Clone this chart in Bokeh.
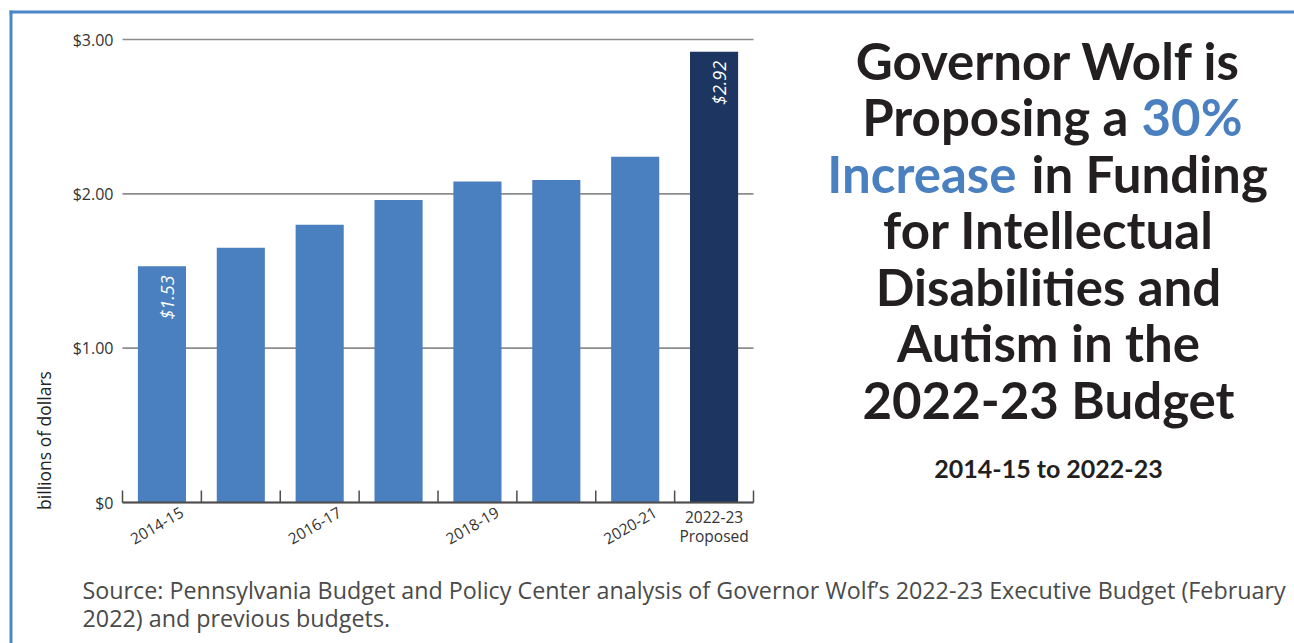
import math
from bokeh.plotting import figure
from bokeh.models import Label, ColumnDataSource, Range1d
from bokeh.embed import file_html
from bokeh.resources import INLINE
from bokeh.core.properties import value

# ---- data ----
years = ["2014-15", "2015-16", "2016-17", "2017-18", "2018-19", "2019-20", "2020-21", "2022-23"]
funding = [1.53, 1.65, 1.80, 1.96, 2.08, 2.09, 2.24, 2.92]
shown_year_labels = ["2014-15", "", "2016-17", "", "2018-19", "", "2020-21", ""]
last_label = ["2022-23", "Proposed"]
value_text = ["$1.53", "", "", "", "", "", "", "$2.92"]
y_ticks = [0, 1, 2, 3]
y_tick_labels = ["$0", "$1.00", "$2.00", "$3.00"]

BLUE = "#4a80c0"
NAVY = "#1c3661"
DARK = "#231f20"
AXIS = "#4d4d4d"

W, H = 1294, 643
L, R, T, B = 122, 753, 39, 502   # pixel box of the plotting area
n = len(years)
SX = (R - L) / n          # px per category
SY = (B - T) / 3.0        # px per billion

def dx(px):
    return (px - L) / SX

def dy(py):
    return (B - py) / SY

p = figure(width=W, height=H, x_range=Range1d(dx(0), dx(W)), y_range=Range1d(dy(H), dy(0)),
           output_backend="svg", toolbar_location=None,
           min_border_left=0, min_border_right=0, min_border_top=0, min_border_bottom=0)
p.axis.visible = False
p.grid.visible = False
p.outline_line_color = None
p.background_fill_color = "white"
p.border_fill_color = "white"

# gridlines (value axis)
p.segment(x0=[0] * len(y_ticks), x1=[n] * len(y_ticks), y0=y_ticks, y1=y_ticks,
          line_color="#8c8c8c", line_width=1.6)

# bars
xs = [i + 0.5 for i in range(n)]
colors = [BLUE] * (n - 1) + [NAVY]
src = ColumnDataSource(dict(x=xs, top=funding, color=colors, vt=value_text, years=years,
                            shown=shown_year_labels))
p.vbar(x="x", top="top", width=0.61, bottom=0, fill_color="color", line_color=None, source=src)

# category axis: baseline + boundary ticks pointing up
p.segment(x0=[0], x1=[n], y0=[0], y1=[0], line_color=AXIS, line_width=2)
tick_x = list(range(n + 1))
p.segment(x0=tick_x, x1=tick_x, y0=[0] * len(tick_x), y1=[12 / SY] * len(tick_x),
          line_color=AXIS, line_width=1.5)

# value-axis tick labels
p.text(x=[dx(113)] * len(y_ticks), y=y_ticks, text=y_tick_labels, text_align="right",
       text_baseline="middle", text_font=value("Open Sans"), text_font_size="16px",
       text_color="#333333")

# value labels inside bars
p.text(x="x", y="top", text="vt", source=src, angle=math.pi / 2, text_align="right",
       text_baseline="middle", x_offset=5, y_offset=9, text_color="white",
       text_font=value("Open Sans"), text_font_style="italic", text_font_size="18px")

# category labels (rotated)
p.text(x="x", y=dy(505), text="shown", source=src, angle=math.pi / 6,
       text_align="right", text_baseline="top", x_offset=17,
       text_font=value("Open Sans"), text_font_size="15.5px", text_color="#333333")
p.text(x=[xs[-1], xs[-1]], y=[dy(516), dy(535)], text=last_label, text_align="center",
       text_baseline="middle", text_font=value("Open Sans"), text_font_size="15.5px",
       text_color="#333333")

# value axis title
p.add_layout(Label(x=dx(43), y=dy(440), text="billions of dollars", angle=math.pi / 2,
                   text_align="center", text_baseline="middle",
                   text_font="Open Sans", text_font_size="17.5px", text_color="#222222"))

# headline
TF = "Lato"
def tl(px, py, text, color=DARK, align="center", size=51):
    shift = 0.39 * size
    p.add_layout(Label(x=dx(px), y=dy(py - shift), text=text, text_align=align,
                       text_baseline="alphabetic", text_font=TF, text_font_style="bold",
                       text_font_size=f"{size}px", text_color=color))

cx = 1048
tl(cx, 80, "Governor Wolf is")
tl(1128, 136, "Proposing a", align="right")
tl(1141, 136, "30%", color=BLUE, align="left")
tl(1016, 193, "Increase", color=BLUE, align="right")
tl(1031, 193, "in Funding", align="left")
tl(cx, 249, "for Intellectual")
tl(cx, 306, "Disabilities and")
tl(cx, 362, "Autism in the")
tl(cx, 419, "2022-23 Budget")
tl(cx, 477, "2014-15 to 2022-23", size=25)

# source note
for py, txt in [(598, "Source: Pennsylvania Budget and Policy Center analysis of Governor Wolf\u2019s 2022-23 Executive Budget (February"),
                (626, "2022) and previous budgets.")]:
    p.add_layout(Label(x=dx(82), y=dy(py - 9), text=txt, text_align="left", text_baseline="alphabetic",
                       text_font="Open Sans", text_font_size="23.3px", text_color="#4a4a4a"))

# frame border (left + top)
p.segment(x0=[dx(10.5), dx(9)], x1=[dx(10.5), dx(W + 5)], y0=[dy(H + 5), dy(11.5)],
          y1=[dy(10), dy(11.5)], line_color="#4a86c8", line_width=3)

open("out.html", "w").write(file_html(p, INLINE))
